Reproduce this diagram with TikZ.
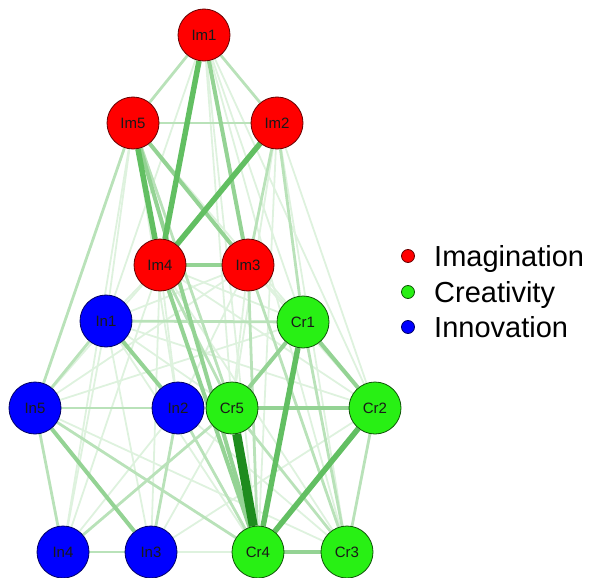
\documentclass[tikz,border=0pt]{standalone}
\usepackage{fontspec}
\setmainfont{Liberation Sans}
\usetikzlibrary{backgrounds}
\definecolor{imred}{RGB}{255,0,0}
\definecolor{crgreen}{RGB}{40,240,20}
\definecolor{inblue}{RGB}{0,0,255}
\definecolor{edgegreen}{RGB}{70,180,70}
\definecolor{heavygreen}{RGB}{30,140,30}

\begin{document}
\begin{tikzpicture}[x=1pt,y=-1pt,
  vtx/.style={circle,minimum size=52pt,inner sep=0pt,line width=0.8pt,text=black!90,font=\fontsize{15}{17}\selectfont},
  imnode/.style={vtx,fill=imred,draw=imred!40!black},
  crnode/.style={vtx,fill=crgreen,draw=crgreen!35!black},
  innode/.style={vtx,fill=inblue,draw=inblue!40!black},
  legdot/.style={circle,minimum size=13pt,inner sep=0pt,line width=0.8pt},
  legtext/.style={anchor=base west,inner sep=0pt,font=\fontsize{29}{32}\selectfont},
  wfaint/.style={line width=1.8pt,draw=edgegreen!18},
  wlight/.style={line width=2.8pt,draw=edgegreen!38},
  wmid/.style={line width=4pt,draw=edgegreen!58},
  wstrong/.style={line width=5.5pt,draw=edgegreen!85},
  wheavy/.style={line width=9pt,draw=heavygreen}]
\useasboundingbox (0,0) rectangle (589,578);

% imagination
\node[imnode] (im1) at (204,35) {Im1};
\node[imnode] (im5) at (133,123) {Im5};
\node[imnode] (im2) at (277,123) {Im2};
\node[imnode] (im4) at (160,265) {Im4};
\node[imnode] (im3) at (248,265) {Im3};
% innovation
\node[innode] (in1) at (106,321) {In1};
\node[innode] (in5) at (35,408) {In5};
\node[innode] (in2) at (178,408) {In2};
\node[innode] (in4) at (63,552) {In4};
\node[innode] (in3) at (151,552) {In3};
% creativity
\node[crnode] (cr1) at (303,322) {Cr1};
\node[crnode] (cr5) at (232,408) {Cr5};
\node[crnode] (cr2) at (375,408) {Cr2};
\node[crnode] (cr4) at (258,552) {Cr4};
\node[crnode] (cr3) at (347,552) {Cr3};

\begin{pgfonlayer}{background}
% faint edges
\draw[wfaint] (im1) -- (cr1);
\draw[wfaint] (im1) -- (cr2);
\draw[wfaint] (im1) -- (cr3);
\draw[wfaint] (im1) -- (cr4);
\draw[wfaint] (im1) -- (cr5);
\draw[wfaint] (im1) -- (in1);
\draw[wfaint] (im2) -- (cr2);
\draw[wfaint] (im2) -- (cr3);
\draw[wfaint] (im2) -- (cr4);
\draw[wfaint] (im2) -- (cr5);
\draw[wfaint] (im3) -- (cr1);
\draw[wfaint] (im3) -- (cr2);
\draw[wfaint] (im3) -- (cr5);
\draw[wfaint] (im3) -- (in1);
\draw[wfaint] (im3) -- (in5);
\draw[wfaint] (im3) -- (in2);
\draw[wfaint] (im4) -- (in1);
\draw[wfaint] (im4) -- (in5);
\draw[wfaint] (im4) -- (in2);
\draw[wfaint] (im4) -- (in4);
\draw[wfaint] (im4) -- (in3);
\draw[wfaint] (im4) -- (cr1);
\draw[wfaint] (im4) -- (cr2);
\draw[wfaint] (im4) -- (cr3);
\draw[wfaint] (im5) -- (in1);
\draw[wfaint] (im5) -- (in2);
\draw[wfaint] (im5) -- (in4);
\draw[wfaint] (im5) -- (cr1);
\draw[wfaint] (in1) -- (cr5);
\draw[wfaint] (in1) -- (cr4);
\draw[wfaint] (in1) -- (cr2);
\draw[wfaint] (in1) -- (in3);
\draw[wfaint] (in1) -- (in4);
\draw[wfaint] (in2) -- (in4);
\draw[wfaint] (in2) -- (cr2);
\draw[wfaint] (in2) -- (cr3);
\draw[wfaint] (in3) -- (cr4);
\draw[wfaint] (in3) -- (cr5);
\draw[wfaint] (in3) -- (cr2);
\draw[wfaint] (in4) -- (cr4);
\draw[wfaint] (in4) -- (cr3);
\draw[wfaint] (in5) -- (cr5);
\draw[wfaint] (in5) -- (cr1);
\draw[wfaint] (in5) -- (cr3);
% light edges
\draw[wlight] (im1) -- (im5);
\draw[wlight] (im1) -- (im2);
\draw[wlight] (im5) -- (im2);
\draw[wlight] (im2) -- (im3);
\draw[wlight] (im2) -- (cr1);
\draw[wlight] (im3) -- (cr3);
\draw[wlight] (im3) -- (cr4);
\draw[wlight] (im4) -- (cr5);
\draw[wlight] (im5) -- (cr5);
\draw[wlight] (im5) -- (in5);
\draw[wlight] (in1) -- (in5);
\draw[wlight] (in1) -- (cr1);
\draw[wlight] (in5) -- (in2);
\draw[wlight] (in5) -- (in4);
\draw[wlight] (in5) -- (cr4);
\draw[wlight] (in2) -- (in3);
\draw[wlight] (in2) -- (cr4);
\draw[wlight] (in4) -- (in3);
\draw[wlight] (in4) -- (cr5);
\draw[wlight] (cr2) -- (cr3);
\draw[wlight] (cr5) -- (cr3);
\draw[wlight] (cr1) -- (cr3);
% medium edges
\draw[wmid] (im1) -- (im3);
\draw[wmid] (im5) -- (im3);
\draw[wmid] (im4) -- (im3);
\draw[wmid] (im5) -- (cr4);
\draw[wmid] (im4) -- (cr4);
\draw[wmid] (in5) -- (in3);
\draw[wmid] (in1) -- (in2);
\draw[wmid] (cr5) -- (cr2);
\draw[wmid] (cr1) -- (cr5);
\draw[wmid] (cr1) -- (cr2);
\draw[wmid] (cr4) -- (cr3);
% strong edges
\draw[wstrong] (im1) -- (im4);
\draw[wstrong] (im2) -- (im4);
\draw[wstrong] (im5) -- (im4);
\draw[wstrong] (cr1) -- (cr4);
\draw[wstrong] (cr2) -- (cr4);
\draw[wheavy] (cr5) -- (cr4);
\end{pgfonlayer}

% legend
\node[legdot,fill=imred,draw=imred!40!black] (dotim) at (408,256) {};
\node[legdot,fill=crgreen,draw=crgreen!35!black] (dotcr) at (408,292) {};
\node[legdot,fill=inblue,draw=inblue!40!black] (dotin) at (408,327) {};
\node[legtext] (labim) at (434,266) {Imagination};
\node[legtext] (labcr) at (434,302) {Creativity};
\node[legtext] (labin) at (434,337) {Innovation};
\end{tikzpicture}
\end{document}
